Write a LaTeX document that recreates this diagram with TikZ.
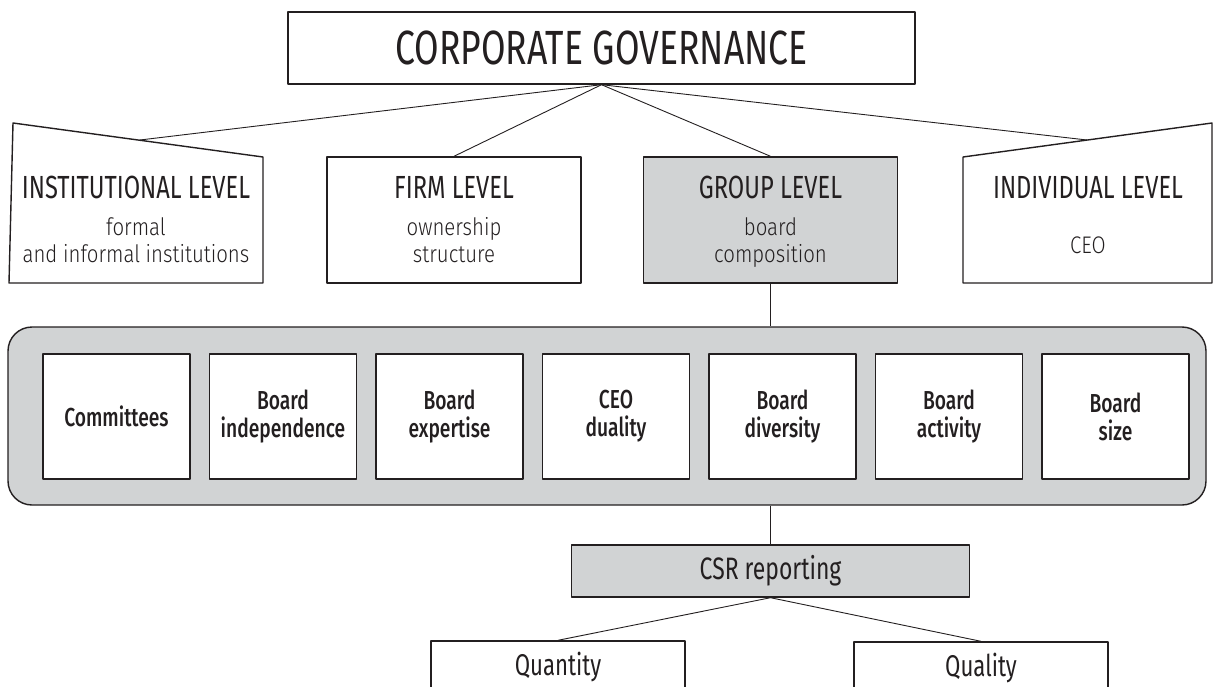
\documentclass[tikz,border=0pt]{standalone}
\usepackage{fontspec}
\setmainfont{Fira Sans}[FakeStretch=0.74]
\newfontfamily\headfont{Fira Sans}[FakeStretch=0.74]
\newfontfamily\subfont{Fira Sans Light}[FakeStretch=0.85]
\newfontfamily\boardfont{Fira Sans Medium}[FakeStretch=0.74]
\usetikzlibrary{positioning}
\definecolor{ink}{RGB}{35,31,32}
\definecolor{panel}{RGB}{209,211,212}

\begin{document}
\begin{tikzpicture}[x=1pt,y=-1pt,ink,line join=round,node distance=18.1pt]

  \tikzstyle{box}=[draw,line width=1.4pt,inner sep=0pt]
  \tikzstyle{level}=[box,minimum width=254pt,minimum height=126pt]
  \tikzstyle{title}=[anchor=base,font=\headfont\fontsize{32}{36}\selectfont]
  \tikzstyle{sub}=[align=center,font=\subfont\fontsize{24}{27}\selectfont]
  \tikzstyle{item}=[box,fill=white,minimum width=147pt,minimum height=125pt,
                    align=center,font=\boardfont\fontsize{26}{28}\selectfont]
  \tikzstyle{report}=[box,minimum width=254pt,minimum height=52pt,
                      font=\headfont\fontsize{30}{34}\selectfont]
  \tikzstyle{link}=[line width=0.9pt]

  \useasboundingbox (0,0) rectangle (1214,687);
  \clip (0,0) rectangle (1214,687);

  \node[box,minimum width=627pt,minimum height=72pt,
        font=\headfont\fontsize{48}{52}\selectfont] (cg) at (601.5,48) {CORPORATE GOVERNANCE};

  \draw[box] (13,123) -- (263,157) -- (263,283) -- (9,283) -- cycle;
  \coordinate (inst) at (140,140);
  \node[title] (instT) at (136,198) {INSTITUTIONAL LEVEL};
  \node[sub]   (instS) at (136,240.5) {formal\\and informal institutions};

  \node[level] (firm) at (454,220) {};
  \node[title] (firmT) at (454,198) {FIRM LEVEL};
  \node[sub]   (firmS) at (454,240.5) {ownership\\structure};

  \node[level,fill=panel] (group) at (770.5,220) {};
  \node[title] (groupT) at (770.5,198) {GROUP LEVEL};
  \node[sub]   (groupS) at (770.5,242.5) {board\\composition};

  \draw[box] (963,157) -- (1212,123) -- (1212,283) -- (963,283) -- cycle;
  \coordinate (indiv) at (1087,140);
  \node[title] (indivT) at (1088,198) {INDIVIDUAL LEVEL};
  \node[sub,anchor=base] (indivS) at (1088,253) {CEO};

  \node[box,fill=panel,rounded corners=24pt,minimum width=1198pt,
        minimum height=178pt] (band) at (607,416) {};

  \node[item] (b1) at (116.5,416.5) {Committees};
  \node[item] (b2) [right=of b1] {Board\\independence};
  \node[item] (b3) [right=of b2] {Board\\expertise};
  \node[item] (b4) [right=of b3] {CEO\\duality};
  \node[item] (b5) [right=of b4] {Board\\diversity};
  \node[item] (b6) [right=of b5] {Board\\activity};
  \node[item] (b7) [right=of b6] {Board\\size};

  \node[report,fill=panel,minimum width=398pt,font=\headfont\fontsize{31}{34}\selectfont]
       (csr) at (770.5,571) {CSR reporting};
  \node[report] (quantity) at (558,667) {Quantity};
  \node[report] (quality)  at (981,668) {Quality};

  \draw[link] (cg.south) -- (inst);
  \draw[link] (cg.south) -- (firm.north);
  \draw[link] (cg.south) -- (group.north);
  \draw[link] (cg.south) -- (indiv);
  \draw[link] (group.south) -- (group.south |- band.north);
  \draw[link] (csr.north |- band.south) -- (csr.north);
  \draw[link] (csr.south) -- (quantity.north);
  \draw[link] (csr.south) -- (quality.north);
\end{tikzpicture}
\end{document}
